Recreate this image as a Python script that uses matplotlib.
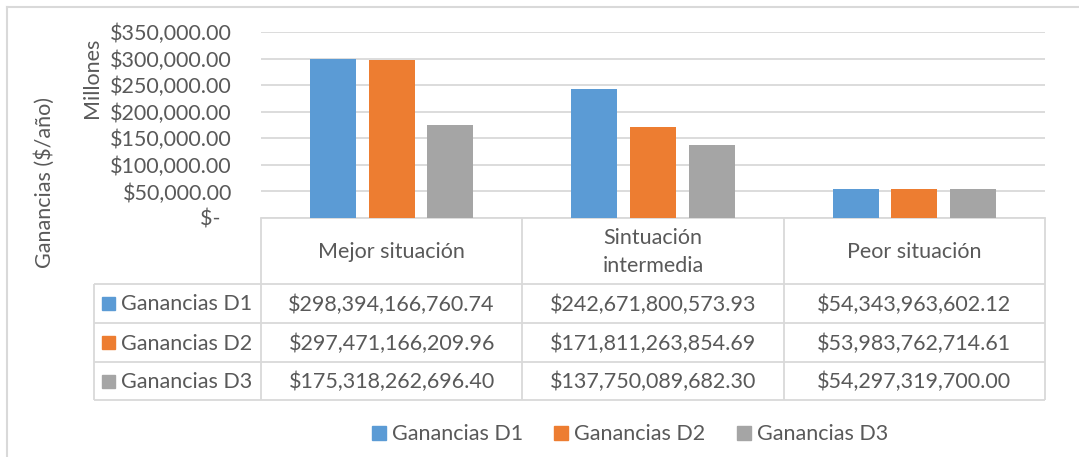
import matplotlib
matplotlib.use("Agg")
import matplotlib.pyplot as plt
import numpy as np
from matplotlib.ticker import FuncFormatter, MultipleLocator
from matplotlib.patches import Rectangle

# ---- data ----
categories = ["Mejor situación", "Sintuación\nintermedia", "Peor situación"]
series_names = ["Ganancias D1", "Ganancias D2", "Ganancias D3"]
d1 = [298394166760.74, 242671800573.93, 54343963602.12]
d2 = [297471166209.96, 171811263854.69, 53983762714.61]
d3 = [175318262696.40, 137750089682.30, 54297319700.00]
series = [d1, d2, d3]
colors = ["#5B9BD5", "#ED7D31", "#A5A5A5"]

TXT = "#595959"
GRID = "#D9D9D9"
FONT = "Lato"
FS = 15.5

W, H = 1079, 457
fig = plt.figure(figsize=(W / 100, H / 100), dpi=100)

def fx(px):
    return px / W

def fy(py):
    return 1 - py / H

# plot area in pixels
L, R, T, B = 261, 1045, 32, 218
ax = fig.add_axes([fx(L), fy(B), fx(R) - fx(L), fy(T) - fy(B)])
x = np.arange(len(categories))
bw = 0.176
step = 0.224
for i, (vals, c) in enumerate(zip(series, colors)):
    ax.bar(x + (i - 1) * step, np.array(vals) / 1e6, width=bw, color=c, zorder=3)
ax.set_xlim(-0.5, len(categories) - 0.5)
ax.set_ylim(0, 350000)
ax.yaxis.set_major_locator(MultipleLocator(50000))

def fmt(v, pos):
    if v == 0:
        return "$-  "
    return "${:,.2f}".format(v)

ax.yaxis.set_major_formatter(FuncFormatter(fmt))
ax.grid(axis="y", color=GRID, linewidth=1.3, zorder=0)
ax.set_xticks([])
for s in ["top", "right", "left"]:
    ax.spines[s].set_visible(False)
ax.spines["bottom"].set_color(GRID)
ax.spines["bottom"].set_linewidth(1.3)
ax.tick_params(axis="y", length=0, pad=21, labelsize=FS, labelcolor=TXT)
for lbl in ax.get_yticklabels():
    lbl.set_fontfamily(FONT)

# overlay for table, legend, titles
ov = fig.add_axes([0, 0, 1, 1], zorder=5)
ov.set_xlim(0, W)
ov.set_ylim(H, 0)
ov.axis("off")
ov.patch.set_alpha(0)

lc = dict(color=GRID, linewidth=1.3, solid_capstyle="butt")
col_edges = [L + (R - L) * k / 3 for k in range(4)]
row_edges = [284, 323, 362, 400]
tab_left = 94
# vertical lines
for xe in col_edges:
    ov.plot([xe, xe], [B, row_edges[-1]], **lc)
ov.plot([tab_left, tab_left], [row_edges[0], row_edges[-1]], **lc)
# horizontal lines
for ye in row_edges:
    ov.plot([tab_left, R], [ye, ye], **lc)

# header text
for k, cat in enumerate(categories):
    cx = (col_edges[k] + col_edges[k + 1]) / 2
    ov.text(cx, (B + row_edges[0]) / 2 + 1, cat, ha="center", va="center",
            fontsize=FS, color=TXT, family=FONT, linespacing=1.45)

# rows
for r, (name, vals, c) in enumerate(zip(series_names, series, colors)):
    cy = (row_edges[r] + row_edges[r + 1]) / 2
    ov.add_patch(Rectangle((102, cy - 6.5), 13, 13, color=c))
    ov.text(121, cy + 1, name, ha="left", va="center", fontsize=FS,
            color=TXT, family=FONT)
    for k, v in enumerate(vals):
        cx = (col_edges[k] + col_edges[k + 1]) / 2
        ov.text(cx, cy + 1, "${:,.2f}".format(v), ha="center", va="center",
                fontsize=FS, color=TXT, family=FONT)

# legend
leg_x = [372, 554, 737]
for lx, name, c in zip(leg_x, series_names, colors):
    ov.add_patch(Rectangle((lx, 433 - 7), 14, 14, color=c))
    ov.text(lx + 20, 434, name, ha="left", va="center", fontsize=FS,
            color=TXT, family=FONT)

# axis titles
ov.text(92, 78, "Millones", rotation=90, ha="center", va="center",
        fontsize=FS, color=TXT, family=FONT)
ov.text(45, 183, "Ganancias ($/año)", rotation=90, ha="center", va="center",
        fontsize=FS, color=TXT, family=FONT)

# outer chart border (only top/left visible)
ov.plot([7, 7], [7, H + 5], color=GRID, linewidth=1.5)
ov.plot([7, W + 5], [7, 7], color=GRID, linewidth=1.5)

fig.savefig("out.png", dpi=100, facecolor="white")
